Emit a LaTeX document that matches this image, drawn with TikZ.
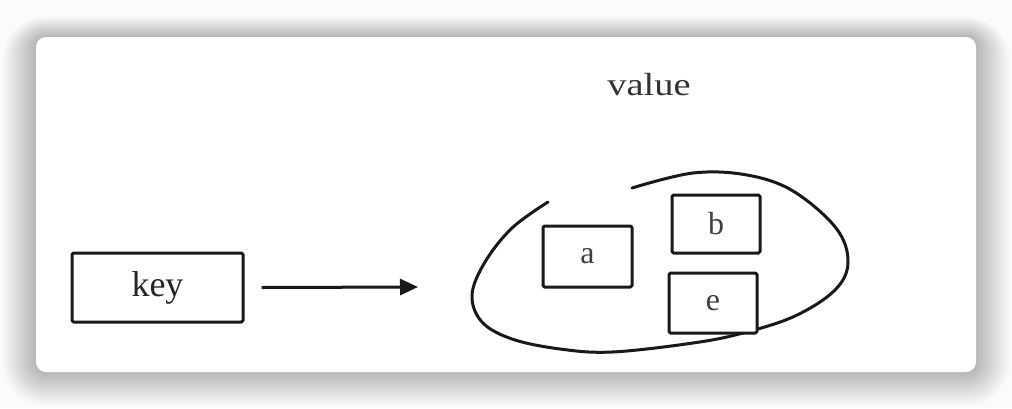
\documentclass[tikz,border=0pt]{standalone}
\usepackage{fontspec}
\setmainfont{Liberation Serif}
\usetikzlibrary{arrows.meta}
\tikzset{
  ink/.style={line width=3pt, draw=black!90, line join=round, line cap=round},
  box/.style={ink, rectangle, rounded corners=1.5pt, inner sep=0pt, fill=white},
  bigtext/.style={font=\fontsize{36}{40}\selectfont, text=black!85},
  smalltext/.style={font=\fontsize{32}{36}\selectfont, text=black!75},
}
\begin{document}
\begin{tikzpicture}[x=1pt, y=-1pt]
  \useasboundingbox (0,0) rectangle (1012,408);
  \fill[black!1.5] (0,0) rectangle (1012,408);
  % soft shadow
  \foreach \i in {34,33,...,1} {
    \fill[black, opacity=0.009, rounded corners=10pt+\i pt]
      (36-\i,37-0.6*\i) rectangle (976+\i,372+\i);
  }
  % card
  \fill[white, rounded corners=10pt] (36,37) rectangle (976,372);

  % key box
  \node[box, bigtext, minimum width=171pt, minimum height=69pt] (key) at (157.5,287.5) {key};
  \coordinate (arrowend) at (418,287);
  \draw[ink, line cap=butt, -{Triangle[length=18pt,width=16pt]}] ([xshift=17pt]key.east) -- (arrowend);

  % value label
  \node[anchor=base, inner sep=0pt, font=\fontsize{32}{36}\selectfont, text=black!80] (value) at (649,95) {\scalebox{1.2}[1]{value}};

  % loop
  \draw[ink] plot[smooth, tension=0.6] coordinates {
    (548,202) (512,228) (485,262) (472,295) (482,322) (512,339)
    (560,349) (612,352) (693,343) (743,333) (795,316) (835,290)
    (848,262) (836,228) (793,191) (747,175) (693,173) (632,188)};

  % inner boxes
  \node[box, smalltext, minimum width=89pt, minimum height=61pt] (a) at (587.5,256.5) {a};
  \node[box, smalltext, minimum width=88pt, minimum height=58pt] (b) at (716,224) {b};
  \node[box, smalltext, minimum width=88pt, minimum height=60pt] (e) at (713,303) {e};
\end{tikzpicture}
\end{document}
